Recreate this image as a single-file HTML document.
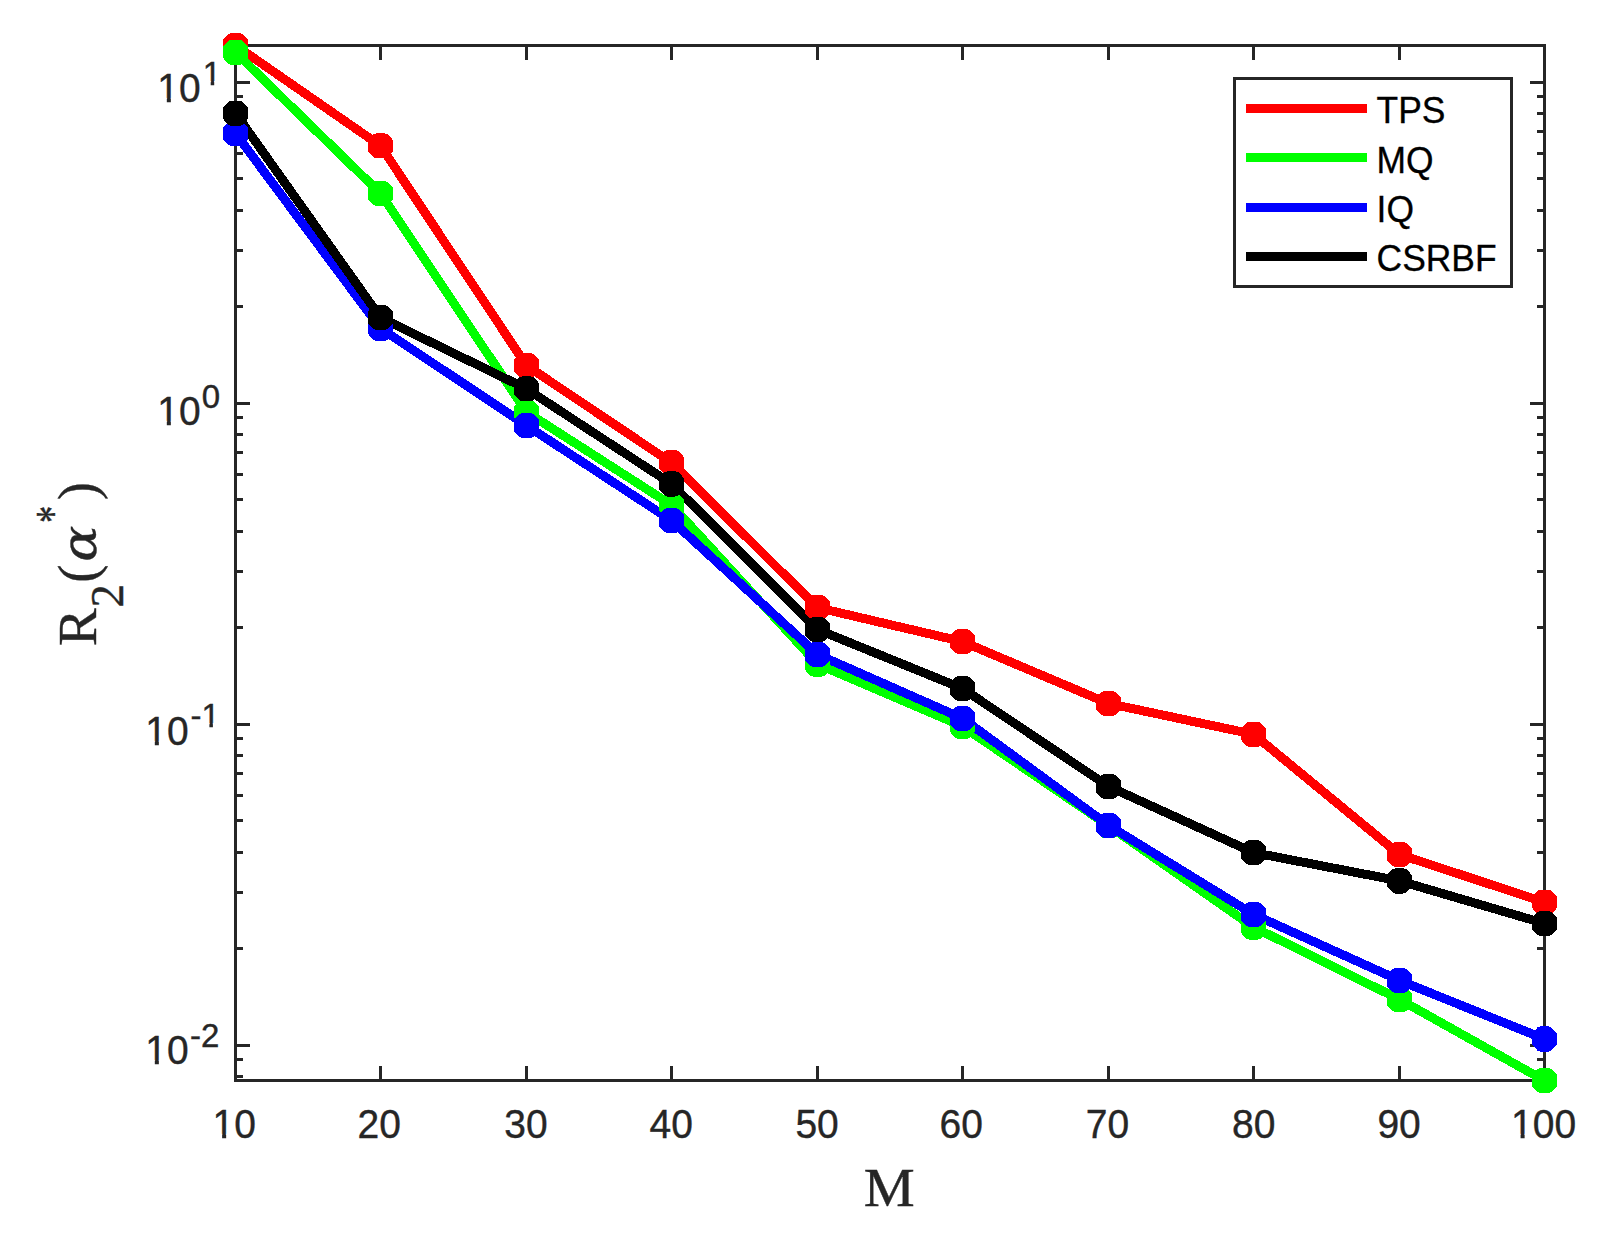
<!DOCTYPE html>
<html lang="en"><head><meta charset="utf-8"><title>R2 vs M</title>
<style>html,body{margin:0;padding:0;background:#fff}svg{display:block}.sans{font-family:"Liberation Sans",sans-serif}.serif{font-family:"Liberation Serif",serif}</style></head><body>
<svg width="1614" height="1233" viewBox="0 0 1614 1233">
<rect width="1614" height="1233" fill="#fff"/>
<g fill="#262626" shape-rendering="crispEdges">
<rect x="234" y="44" width="3" height="1038"/>
<rect x="1543" y="44" width="3" height="1038"/>
<rect x="234" y="44" width="1312" height="3"/>
<rect x="234" y="1079" width="1312" height="3"/>
<rect x="379" y="1066" width="3" height="14"/>
<rect x="379" y="46" width="3" height="14"/>
<rect x="525" y="1066" width="3" height="14"/>
<rect x="525" y="46" width="3" height="14"/>
<rect x="670" y="1066" width="3" height="14"/>
<rect x="670" y="46" width="3" height="14"/>
<rect x="816" y="1066" width="3" height="14"/>
<rect x="816" y="46" width="3" height="14"/>
<rect x="961" y="1066" width="3" height="14"/>
<rect x="961" y="46" width="3" height="14"/>
<rect x="1107" y="1066" width="3" height="14"/>
<rect x="1107" y="46" width="3" height="14"/>
<rect x="1252" y="1066" width="3" height="14"/>
<rect x="1252" y="46" width="3" height="14"/>
<rect x="1398" y="1066" width="3" height="14"/>
<rect x="1398" y="46" width="3" height="14"/>
<rect x="236" y="1075" width="7" height="3"/>
<rect x="1537" y="1075" width="7" height="3"/>
<rect x="236" y="1058" width="7" height="3"/>
<rect x="1537" y="1058" width="7" height="3"/>
<rect x="236" y="1044" width="14" height="3"/>
<rect x="1530" y="1044" width="14" height="3"/>
<rect x="236" y="947" width="7" height="3"/>
<rect x="1537" y="947" width="7" height="3"/>
<rect x="236" y="891" width="7" height="3"/>
<rect x="1537" y="891" width="7" height="3"/>
<rect x="236" y="851" width="7" height="3"/>
<rect x="1537" y="851" width="7" height="3"/>
<rect x="236" y="819" width="7" height="3"/>
<rect x="1537" y="819" width="7" height="3"/>
<rect x="236" y="794" width="7" height="3"/>
<rect x="1537" y="794" width="7" height="3"/>
<rect x="236" y="772" width="7" height="3"/>
<rect x="1537" y="772" width="7" height="3"/>
<rect x="236" y="754" width="7" height="3"/>
<rect x="1537" y="754" width="7" height="3"/>
<rect x="236" y="737" width="7" height="3"/>
<rect x="1537" y="737" width="7" height="3"/>
<rect x="236" y="723" width="14" height="3"/>
<rect x="1530" y="723" width="14" height="3"/>
<rect x="236" y="626" width="7" height="3"/>
<rect x="1537" y="626" width="7" height="3"/>
<rect x="236" y="570" width="7" height="3"/>
<rect x="1537" y="570" width="7" height="3"/>
<rect x="236" y="530" width="7" height="3"/>
<rect x="1537" y="530" width="7" height="3"/>
<rect x="236" y="498" width="7" height="3"/>
<rect x="1537" y="498" width="7" height="3"/>
<rect x="236" y="473" width="7" height="3"/>
<rect x="1537" y="473" width="7" height="3"/>
<rect x="236" y="451" width="7" height="3"/>
<rect x="1537" y="451" width="7" height="3"/>
<rect x="236" y="433" width="7" height="3"/>
<rect x="1537" y="433" width="7" height="3"/>
<rect x="236" y="416" width="7" height="3"/>
<rect x="1537" y="416" width="7" height="3"/>
<rect x="236" y="402" width="14" height="3"/>
<rect x="1530" y="402" width="14" height="3"/>
<rect x="236" y="305" width="7" height="3"/>
<rect x="1537" y="305" width="7" height="3"/>
<rect x="236" y="249" width="7" height="3"/>
<rect x="1537" y="249" width="7" height="3"/>
<rect x="236" y="209" width="7" height="3"/>
<rect x="1537" y="209" width="7" height="3"/>
<rect x="236" y="177" width="7" height="3"/>
<rect x="1537" y="177" width="7" height="3"/>
<rect x="236" y="152" width="7" height="3"/>
<rect x="1537" y="152" width="7" height="3"/>
<rect x="236" y="130" width="7" height="3"/>
<rect x="1537" y="130" width="7" height="3"/>
<rect x="236" y="112" width="7" height="3"/>
<rect x="1537" y="112" width="7" height="3"/>
<rect x="236" y="95" width="7" height="3"/>
<rect x="1537" y="95" width="7" height="3"/>
<rect x="236" y="81" width="14" height="3"/>
<rect x="1530" y="81" width="14" height="3"/>
</g>
<g class="sans" fill="#262626" stroke="#262626" stroke-width="0.4">
<text transform="translate(212.61 1138.3) scale(0.942 1)" font-size="41.4">10</text>
<text transform="translate(357.51 1138.3) scale(0.942 1)" font-size="41.4">20</text>
<text transform="translate(504.21 1138.3) scale(0.942 1)" font-size="41.4">30</text>
<text transform="translate(649.51 1138.3) scale(0.942 1)" font-size="41.4">40</text>
<text transform="translate(795.41 1138.3) scale(0.942 1)" font-size="41.4">50</text>
<text transform="translate(939.61 1138.3) scale(0.942 1)" font-size="41.4">60</text>
<text transform="translate(1085.81 1138.3) scale(0.942 1)" font-size="41.4">70</text>
<text transform="translate(1232.01 1138.3) scale(0.942 1)" font-size="41.4">80</text>
<text transform="translate(1377.41 1138.3) scale(0.942 1)" font-size="41.4">90</text>
<text transform="translate(1511.07 1138.3) scale(0.942 1)" font-size="41.4">100</text>
<text transform="translate(157.30 102.39999999999999) scale(0.942 1)" font-size="41.4">10</text>
<text transform="translate(202.70 84.9) scale(1 1)" font-size="33">1</text>
<text transform="translate(157.30 425.35) scale(0.942 1)" font-size="41.4">10</text>
<text transform="translate(201.70 407.9) scale(1 1)" font-size="33">0</text>
<text transform="translate(145.30 745.35) scale(0.942 1)" font-size="41.4">10</text>
<text transform="translate(190.40 726.9) scale(1 1)" font-size="33">-1</text>
<text transform="translate(145.30 1064.4499999999998) scale(0.942 1)" font-size="41.4">10</text>
<text transform="translate(190.10 1046.8) scale(1 1)" font-size="33">-2</text>
</g>
<g fill="#fff">
<rect x="213.58" y="1133.81" width="8.54" height="6.29"/>
<rect x="226.16" y="1133.81" width="8.23" height="6.29"/>
<rect x="1512.04" y="1133.81" width="8.54" height="6.29"/>
<rect x="1524.62" y="1133.81" width="8.23" height="6.29"/>
<rect x="158.27" y="97.91" width="8.54" height="6.29"/>
<rect x="170.85" y="97.91" width="8.23" height="6.29"/>
<rect x="203.21" y="81.03" width="7.48" height="5.67"/>
<rect x="214.21" y="81.03" width="7.23" height="5.67"/>
<rect x="158.27" y="420.86" width="8.54" height="6.29"/>
<rect x="170.85" y="420.86" width="8.23" height="6.29"/>
<rect x="146.27" y="740.86" width="8.54" height="6.29"/>
<rect x="158.85" y="740.86" width="8.23" height="6.29"/>
<rect x="201.90" y="723.03" width="7.48" height="5.67"/>
<rect x="212.90" y="723.03" width="7.23" height="5.67"/>
<rect x="146.27" y="1059.96" width="8.54" height="6.29"/>
<rect x="158.85" y="1059.96" width="8.23" height="6.29"/>
</g>
<text class="serif" transform="translate(889.3 1205.9) scale(1.05 1)" font-size="54.6" text-anchor="middle" fill="#262626" stroke="#262626" stroke-width="0.4">M</text>
<g fill="#262626" stroke="#262626" stroke-width="0.4" transform="translate(96.1 645.2) rotate(-90)">
<text font-family="Liberation Serif, serif" font-size="54.83" transform="translate(-1.04 -0.60) scale(1.037 1)">R</text>
<text font-family="Liberation Serif, serif" font-size="45.46" transform="translate(37.63 26.40) scale(1.037 1)">2</text>
<text font-family="Liberation Serif, serif" font-size="54.59" transform="translate(62.51 -0.42) scale(0.998 1)">(</text>
<text font-family="DejaVu Serif, serif" font-style="italic" font-size="47.72" transform="translate(83.55 0.02) scale(1.121 1)">α</text>
<text font-family="Liberation Serif, serif" font-size="48.81" transform="translate(122.23 -26.64) scale(0.701 1)">*</text>
<text font-family="Liberation Serif, serif" font-size="54.59" transform="translate(145.28 -0.42) scale(0.977 1)">)</text>
</g>
<g shape-rendering="crispEdges">
<polyline points="235.5,45.4 380.5,145.8 526.5,365.5 671.5,462.7 817.5,607.6 962.5,641.6 1108.5,703.5 1253.5,734.3 1399.5,854.5 1544.5,902.2" fill="none" stroke="#ff0000" stroke-width="9" stroke-linejoin="round"/>
<polyline points="235.5,52.35 380.5,193.4 526.5,412.0 671.5,505.0 817.5,664.1 962.5,726.3 1108.5,825.7 1253.5,927.1 1399.5,999.4 1544.5,1080.6" fill="none" stroke="#00ff00" stroke-width="9" stroke-linejoin="round"/>
<polyline points="235.5,133.4 380.5,328.3 526.5,425.5 671.5,520.4 817.5,654.4 962.5,718.4 1108.5,825.4 1253.5,914.4 1399.5,980.4 1544.5,1039.0" fill="none" stroke="#0000ff" stroke-width="9" stroke-linejoin="round"/>
<polyline points="235.5,113.35 380.5,317.6 526.5,388.8 671.5,483.9 817.5,629.5 962.5,688.5 1108.5,786.4 1253.5,852.6 1399.5,880.9 1544.5,923.5" fill="none" stroke="#000000" stroke-width="9" stroke-linejoin="round"/>
<g fill="#ff0000">
<polygon points="239.50,32.80 242.50,33.90 246.90,38.40 247.95,39.90 247.95,50.90 246.90,52.40 242.50,56.90 239.50,58.00 231.50,58.00 228.50,56.90 224.10,52.40 223.05,50.90 223.05,39.90 224.10,38.40 228.50,33.90 231.50,32.80"/>
<polygon points="384.50,133.20 387.50,134.30 391.90,138.80 392.95,140.30 392.95,151.30 391.90,152.80 387.50,157.30 384.50,158.40 376.50,158.40 373.50,157.30 369.10,152.80 368.05,151.30 368.05,140.30 369.10,138.80 373.50,134.30 376.50,133.20"/>
<polygon points="530.50,352.90 533.50,354.00 537.90,358.50 538.95,360.00 538.95,371.00 537.90,372.50 533.50,377.00 530.50,378.10 522.50,378.10 519.50,377.00 515.10,372.50 514.05,371.00 514.05,360.00 515.10,358.50 519.50,354.00 522.50,352.90"/>
<polygon points="675.50,450.10 678.50,451.20 682.90,455.70 683.95,457.20 683.95,468.20 682.90,469.70 678.50,474.20 675.50,475.30 667.50,475.30 664.50,474.20 660.10,469.70 659.05,468.20 659.05,457.20 660.10,455.70 664.50,451.20 667.50,450.10"/>
<polygon points="821.50,595.00 824.50,596.10 828.90,600.60 829.95,602.10 829.95,613.10 828.90,614.60 824.50,619.10 821.50,620.20 813.50,620.20 810.50,619.10 806.10,614.60 805.05,613.10 805.05,602.10 806.10,600.60 810.50,596.10 813.50,595.00"/>
<polygon points="966.50,629.00 969.50,630.10 973.90,634.60 974.95,636.10 974.95,647.10 973.90,648.60 969.50,653.10 966.50,654.20 958.50,654.20 955.50,653.10 951.10,648.60 950.05,647.10 950.05,636.10 951.10,634.60 955.50,630.10 958.50,629.00"/>
<polygon points="1112.50,690.90 1115.50,692.00 1119.90,696.50 1120.95,698.00 1120.95,709.00 1119.90,710.50 1115.50,715.00 1112.50,716.10 1104.50,716.10 1101.50,715.00 1097.10,710.50 1096.05,709.00 1096.05,698.00 1097.10,696.50 1101.50,692.00 1104.50,690.90"/>
<polygon points="1257.50,721.70 1260.50,722.80 1264.90,727.30 1265.95,728.80 1265.95,739.80 1264.90,741.30 1260.50,745.80 1257.50,746.90 1249.50,746.90 1246.50,745.80 1242.10,741.30 1241.05,739.80 1241.05,728.80 1242.10,727.30 1246.50,722.80 1249.50,721.70"/>
<polygon points="1403.50,841.90 1406.50,843.00 1410.90,847.50 1411.95,849.00 1411.95,860.00 1410.90,861.50 1406.50,866.00 1403.50,867.10 1395.50,867.10 1392.50,866.00 1388.10,861.50 1387.05,860.00 1387.05,849.00 1388.10,847.50 1392.50,843.00 1395.50,841.90"/>
<polygon points="1548.50,889.60 1551.50,890.70 1555.90,895.20 1556.95,896.70 1556.95,907.70 1555.90,909.20 1551.50,913.70 1548.50,914.80 1540.50,914.80 1537.50,913.70 1533.10,909.20 1532.05,907.70 1532.05,896.70 1533.10,895.20 1537.50,890.70 1540.50,889.60"/>
</g>
<g fill="#00ff00">
<polygon points="239.50,39.75 242.50,40.85 246.90,45.35 247.95,46.85 247.95,57.85 246.90,59.35 242.50,63.85 239.50,64.95 231.50,64.95 228.50,63.85 224.10,59.35 223.05,57.85 223.05,46.85 224.10,45.35 228.50,40.85 231.50,39.75"/>
<polygon points="384.50,180.80 387.50,181.90 391.90,186.40 392.95,187.90 392.95,198.90 391.90,200.40 387.50,204.90 384.50,206.00 376.50,206.00 373.50,204.90 369.10,200.40 368.05,198.90 368.05,187.90 369.10,186.40 373.50,181.90 376.50,180.80"/>
<polygon points="530.50,399.40 533.50,400.50 537.90,405.00 538.95,406.50 538.95,417.50 537.90,419.00 533.50,423.50 530.50,424.60 522.50,424.60 519.50,423.50 515.10,419.00 514.05,417.50 514.05,406.50 515.10,405.00 519.50,400.50 522.50,399.40"/>
<polygon points="675.50,492.40 678.50,493.50 682.90,498.00 683.95,499.50 683.95,510.50 682.90,512.00 678.50,516.50 675.50,517.60 667.50,517.60 664.50,516.50 660.10,512.00 659.05,510.50 659.05,499.50 660.10,498.00 664.50,493.50 667.50,492.40"/>
<polygon points="821.50,651.50 824.50,652.60 828.90,657.10 829.95,658.60 829.95,669.60 828.90,671.10 824.50,675.60 821.50,676.70 813.50,676.70 810.50,675.60 806.10,671.10 805.05,669.60 805.05,658.60 806.10,657.10 810.50,652.60 813.50,651.50"/>
<polygon points="966.50,713.70 969.50,714.80 973.90,719.30 974.95,720.80 974.95,731.80 973.90,733.30 969.50,737.80 966.50,738.90 958.50,738.90 955.50,737.80 951.10,733.30 950.05,731.80 950.05,720.80 951.10,719.30 955.50,714.80 958.50,713.70"/>
<polygon points="1112.50,813.10 1115.50,814.20 1119.90,818.70 1120.95,820.20 1120.95,831.20 1119.90,832.70 1115.50,837.20 1112.50,838.30 1104.50,838.30 1101.50,837.20 1097.10,832.70 1096.05,831.20 1096.05,820.20 1097.10,818.70 1101.50,814.20 1104.50,813.10"/>
<polygon points="1257.50,914.50 1260.50,915.60 1264.90,920.10 1265.95,921.60 1265.95,932.60 1264.90,934.10 1260.50,938.60 1257.50,939.70 1249.50,939.70 1246.50,938.60 1242.10,934.10 1241.05,932.60 1241.05,921.60 1242.10,920.10 1246.50,915.60 1249.50,914.50"/>
<polygon points="1403.50,986.80 1406.50,987.90 1410.90,992.40 1411.95,993.90 1411.95,1004.90 1410.90,1006.40 1406.50,1010.90 1403.50,1012.00 1395.50,1012.00 1392.50,1010.90 1388.10,1006.40 1387.05,1004.90 1387.05,993.90 1388.10,992.40 1392.50,987.90 1395.50,986.80"/>
<polygon points="1548.50,1068.00 1551.50,1069.10 1555.90,1073.60 1556.95,1075.10 1556.95,1086.10 1555.90,1087.60 1551.50,1092.10 1548.50,1093.20 1540.50,1093.20 1537.50,1092.10 1533.10,1087.60 1532.05,1086.10 1532.05,1075.10 1533.10,1073.60 1537.50,1069.10 1540.50,1068.00"/>
</g>
<g fill="#0000ff">
<polygon points="239.50,120.80 242.50,121.90 246.90,126.40 247.95,127.90 247.95,138.90 246.90,140.40 242.50,144.90 239.50,146.00 231.50,146.00 228.50,144.90 224.10,140.40 223.05,138.90 223.05,127.90 224.10,126.40 228.50,121.90 231.50,120.80"/>
<polygon points="384.50,315.70 387.50,316.80 391.90,321.30 392.95,322.80 392.95,333.80 391.90,335.30 387.50,339.80 384.50,340.90 376.50,340.90 373.50,339.80 369.10,335.30 368.05,333.80 368.05,322.80 369.10,321.30 373.50,316.80 376.50,315.70"/>
<polygon points="530.50,412.90 533.50,414.00 537.90,418.50 538.95,420.00 538.95,431.00 537.90,432.50 533.50,437.00 530.50,438.10 522.50,438.10 519.50,437.00 515.10,432.50 514.05,431.00 514.05,420.00 515.10,418.50 519.50,414.00 522.50,412.90"/>
<polygon points="675.50,507.80 678.50,508.90 682.90,513.40 683.95,514.90 683.95,525.90 682.90,527.40 678.50,531.90 675.50,533.00 667.50,533.00 664.50,531.90 660.10,527.40 659.05,525.90 659.05,514.90 660.10,513.40 664.50,508.90 667.50,507.80"/>
<polygon points="821.50,641.80 824.50,642.90 828.90,647.40 829.95,648.90 829.95,659.90 828.90,661.40 824.50,665.90 821.50,667.00 813.50,667.00 810.50,665.90 806.10,661.40 805.05,659.90 805.05,648.90 806.10,647.40 810.50,642.90 813.50,641.80"/>
<polygon points="966.50,705.80 969.50,706.90 973.90,711.40 974.95,712.90 974.95,723.90 973.90,725.40 969.50,729.90 966.50,731.00 958.50,731.00 955.50,729.90 951.10,725.40 950.05,723.90 950.05,712.90 951.10,711.40 955.50,706.90 958.50,705.80"/>
<polygon points="1112.50,812.80 1115.50,813.90 1119.90,818.40 1120.95,819.90 1120.95,830.90 1119.90,832.40 1115.50,836.90 1112.50,838.00 1104.50,838.00 1101.50,836.90 1097.10,832.40 1096.05,830.90 1096.05,819.90 1097.10,818.40 1101.50,813.90 1104.50,812.80"/>
<polygon points="1257.50,901.80 1260.50,902.90 1264.90,907.40 1265.95,908.90 1265.95,919.90 1264.90,921.40 1260.50,925.90 1257.50,927.00 1249.50,927.00 1246.50,925.90 1242.10,921.40 1241.05,919.90 1241.05,908.90 1242.10,907.40 1246.50,902.90 1249.50,901.80"/>
<polygon points="1403.50,967.80 1406.50,968.90 1410.90,973.40 1411.95,974.90 1411.95,985.90 1410.90,987.40 1406.50,991.90 1403.50,993.00 1395.50,993.00 1392.50,991.90 1388.10,987.40 1387.05,985.90 1387.05,974.90 1388.10,973.40 1392.50,968.90 1395.50,967.80"/>
<polygon points="1548.50,1026.40 1551.50,1027.50 1555.90,1032.00 1556.95,1033.50 1556.95,1044.50 1555.90,1046.00 1551.50,1050.50 1548.50,1051.60 1540.50,1051.60 1537.50,1050.50 1533.10,1046.00 1532.05,1044.50 1532.05,1033.50 1533.10,1032.00 1537.50,1027.50 1540.50,1026.40"/>
</g>
<g fill="#000000">
<polygon points="239.50,100.75 242.50,101.85 246.90,106.35 247.95,107.85 247.95,118.85 246.90,120.35 242.50,124.85 239.50,125.95 231.50,125.95 228.50,124.85 224.10,120.35 223.05,118.85 223.05,107.85 224.10,106.35 228.50,101.85 231.50,100.75"/>
<polygon points="384.50,305.00 387.50,306.10 391.90,310.60 392.95,312.10 392.95,323.10 391.90,324.60 387.50,329.10 384.50,330.20 376.50,330.20 373.50,329.10 369.10,324.60 368.05,323.10 368.05,312.10 369.10,310.60 373.50,306.10 376.50,305.00"/>
<polygon points="530.50,376.20 533.50,377.30 537.90,381.80 538.95,383.30 538.95,394.30 537.90,395.80 533.50,400.30 530.50,401.40 522.50,401.40 519.50,400.30 515.10,395.80 514.05,394.30 514.05,383.30 515.10,381.80 519.50,377.30 522.50,376.20"/>
<polygon points="675.50,471.30 678.50,472.40 682.90,476.90 683.95,478.40 683.95,489.40 682.90,490.90 678.50,495.40 675.50,496.50 667.50,496.50 664.50,495.40 660.10,490.90 659.05,489.40 659.05,478.40 660.10,476.90 664.50,472.40 667.50,471.30"/>
<polygon points="821.50,616.90 824.50,618.00 828.90,622.50 829.95,624.00 829.95,635.00 828.90,636.50 824.50,641.00 821.50,642.10 813.50,642.10 810.50,641.00 806.10,636.50 805.05,635.00 805.05,624.00 806.10,622.50 810.50,618.00 813.50,616.90"/>
<polygon points="966.50,675.90 969.50,677.00 973.90,681.50 974.95,683.00 974.95,694.00 973.90,695.50 969.50,700.00 966.50,701.10 958.50,701.10 955.50,700.00 951.10,695.50 950.05,694.00 950.05,683.00 951.10,681.50 955.50,677.00 958.50,675.90"/>
<polygon points="1112.50,773.80 1115.50,774.90 1119.90,779.40 1120.95,780.90 1120.95,791.90 1119.90,793.40 1115.50,797.90 1112.50,799.00 1104.50,799.00 1101.50,797.90 1097.10,793.40 1096.05,791.90 1096.05,780.90 1097.10,779.40 1101.50,774.90 1104.50,773.80"/>
<polygon points="1257.50,840.00 1260.50,841.10 1264.90,845.60 1265.95,847.10 1265.95,858.10 1264.90,859.60 1260.50,864.10 1257.50,865.20 1249.50,865.20 1246.50,864.10 1242.10,859.60 1241.05,858.10 1241.05,847.10 1242.10,845.60 1246.50,841.10 1249.50,840.00"/>
<polygon points="1403.50,868.30 1406.50,869.40 1410.90,873.90 1411.95,875.40 1411.95,886.40 1410.90,887.90 1406.50,892.40 1403.50,893.50 1395.50,893.50 1392.50,892.40 1388.10,887.90 1387.05,886.40 1387.05,875.40 1388.10,873.90 1392.50,869.40 1395.50,868.30"/>
<polygon points="1548.50,910.90 1551.50,912.00 1555.90,916.50 1556.95,918.00 1556.95,929.00 1555.90,930.50 1551.50,935.00 1548.50,936.10 1540.50,936.10 1537.50,935.00 1533.10,930.50 1532.05,929.00 1532.05,918.00 1533.10,916.50 1537.50,912.00 1540.50,910.90"/>
</g>
</g>
<g shape-rendering="crispEdges">
<rect x="1234.6" y="78.6" width="277" height="207.6" fill="#fff" stroke="#262626" stroke-width="2.8"/>
<line x1="1245.7" x2="1367.1" y1="108.5" y2="108.5" stroke="#ff0000" stroke-width="9"/>
<line x1="1245.7" x2="1367.1" y1="157.3" y2="157.3" stroke="#00ff00" stroke-width="9"/>
<line x1="1245.7" x2="1367.1" y1="207.3" y2="207.3" stroke="#0000ff" stroke-width="9"/>
<line x1="1245.7" x2="1367.1" y1="256.3" y2="256.3" stroke="#000000" stroke-width="9"/>
</g>
<g class="sans" fill="#000" stroke="#000" stroke-width="0.3" font-size="36.2">
<text transform="translate(1376.6 123.4) scale(0.978 1)">TPS</text>
<text transform="translate(1376.6 172.5) scale(0.978 1)">MQ</text>
<text transform="translate(1376.6 222.4) scale(0.978 1)">IQ</text>
<text transform="translate(1376.6 271.1) scale(0.978 1)">CSRBF</text>
</g>
</svg></body></html>
